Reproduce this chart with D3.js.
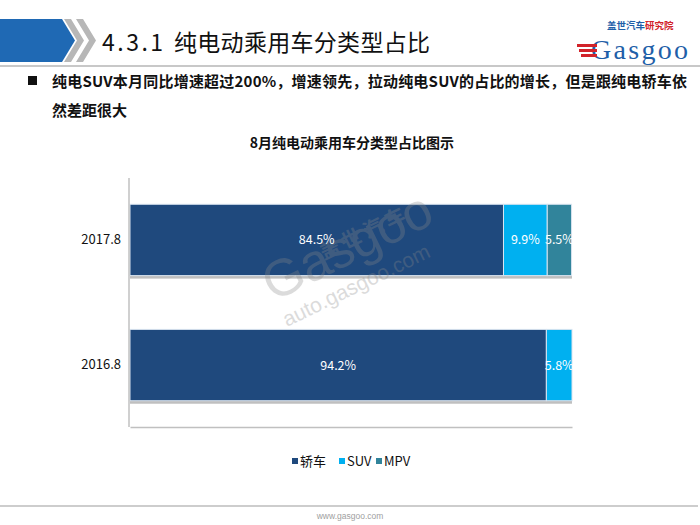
<!DOCTYPE html>
<html><head><meta charset="utf-8">
<script src="https://cdn.jsdelivr.net/npm/d3@7"></script>
<style>
html,body{margin:0;padding:0;background:#fff;}
svg{display:block;font-family:"Noto Sans CJK SC","Noto Sans",sans-serif;}
</style></head>
<body>
<svg id="c" width="700" height="525"></svg>
<script>
// ---- data ----
const categories = ["2017.8", "2016.8"];
const seriesNames = ["轿车", "SUV", "MPV"];
const sedanValues = [84.5, 94.2];
const suvValues = [9.9, 5.8];
const mpvValues = [5.5, 0];
const seriesColors = ["#1F497D", "#00B0F0", "#31849B"];
const headerNumber = "4.3.1";
const headerTitle = "纯电动乘用车分类型占比";
const bulletLine1 = "纯电SUV本月同比增速超过200%，增速领先，拉动纯电SUV的占比的增长，但是跟纯电轿车依";
const bulletLine2 = "然差距很大";
const chartTitle = "8月纯电动乘用车分类型占比图示";
const footerText = "www.gasgoo.com";

const svg = d3.select("#c");

// ---- header ----
svg.append("rect").attr("x",0).attr("y",19).attr("width",62).attr("height",43).attr("fill","#1F69B4");
svg.append("path").attr("d","M62,19 L75,40.5 L62,62 Z").attr("fill","#1F69B4");
[64,76].forEach(x0=>{
  svg.append("path").attr("d",`M${x0},19 L${x0+7},19 L${x0+20},40.5 L${x0+7},62 L${x0},62 L${x0+13},40.5 Z`).attr("fill","#B7B7B7");
});
svg.append("text").attr("x",102).attr("y",51).attr("font-size",23).attr("letter-spacing",2.5).attr("fill","#111").text(headerNumber);
svg.append("text").attr("x",174).attr("y",51).attr("font-size",23).attr("letter-spacing",0.3).attr("fill","#111").text(headerTitle);
svg.append("line").attr("x1",0).attr("x2",700).attr("y1",66).attr("y2",66).attr("stroke","#C8C8C8").attr("stroke-width",2);

// logo
const logo = svg.append("g");
const lt = logo.append("text").attr("x",607).attr("y",29).attr("font-size",9.5).attr("font-weight","bold");
lt.append("tspan").attr("fill","#1F5FA8").text("盖世汽车");
lt.append("tspan").attr("fill","#D2232A").text("研究院");
logo.append("text").attr("x",591).attr("y",59).attr("font-size",28).attr("font-family","Liberation Serif, serif").attr("fill","#1F5FA8").attr("textLength",97).text("Gasgoo");
[46,51,56].forEach((y,i)=>{
  logo.append("rect").attr("x",577+i*2).attr("y",y-2).attr("width",20-i*2).attr("height",3).attr("fill","#D2232A");
});

// bullet text
svg.append("rect").attr("x",28).attr("y",76).attr("width",9).attr("height",9).attr("fill","#111");
svg.append("text").attr("x",52).attr("y",87).attr("font-size",15).attr("font-weight","bold").attr("fill","#111").attr("textLength",635).text(bulletLine1);
svg.append("text").attr("x",52).attr("y",116).attr("font-size",15).attr("font-weight","bold").attr("fill","#111").text(bulletLine2);

// chart title
svg.append("text").attr("x",352).attr("y",148).attr("text-anchor","middle").attr("font-size",14).attr("font-weight","bold").attr("fill","#111").text(chartTitle);

// ---- chart ----
const x = d3.scaleLinear().domain([0,100]).range([130,572]);
const y = d3.scaleBand().domain(categories).range([178,427]).paddingInner(0.43).paddingOuter(0.21);

const stackData = categories.map((c,i)=>({cat:c, "轿车":sedanValues[i], "SUV":suvValues[i], "MPV":mpvValues[i]}));
const stacked = d3.stack().keys(seriesNames)(stackData);

// shadows
svg.append("g").selectAll("rect").data(categories).join("rect")
  .attr("x",x(0)).attr("y",d=>y(d)+3).attr("width",x(100)-x(0)).attr("height",y.bandwidth())
  .attr("fill","#BFBFBF");

const layers = svg.append("g").selectAll("g").data(stacked).join("g").attr("fill",(d,i)=>seriesColors[i]);
layers.selectAll("rect").data(d=>d).join("rect")
  .attr("x",d=>x(d[0])).attr("y",d=>y(d.data.cat))
  .attr("width",d=>Math.max(0,x(d[1])-x(d[0]))).attr("height",y.bandwidth())
  .attr("stroke","#D9E4F0").attr("stroke-width",d=>d[1]-d[0]>0?1:0);

// watermark (over the bars)
const wm = svg.append("g").attr("fill","#8A8A8A").attr("opacity",0.3);
wm.append("text").attr("transform","translate(273,302) rotate(-26)").attr("font-size",52).attr("font-family","Liberation Sans, sans-serif").text("Gasgoo");
wm.append("text").attr("transform","translate(287,327) rotate(-26)").attr("font-size",21).attr("font-family","Liberation Sans, sans-serif").text("auto.gasgoo.com");
wm.append("text").attr("transform","translate(324,260) rotate(-26)").attr("font-size",20).attr("font-weight","bold").attr("letter-spacing",4).text("盖世汽车");

// labels
const labG = svg.append("g");
stacked.forEach(layer=>{
  layer.forEach(v=>{
    const val = v[1]-v[0];
    if(val<=0) return;
    labG.append("text").attr("x",(x(v[0])+x(v[1]))/2).attr("y",y(v.data.cat)+y.bandwidth()/2+4.5)
      .attr("text-anchor","middle").attr("font-size",12.5).attr("fill","#fff")
      .text(val.toFixed(1)+"%");
  });
});

// axes
const yAxis = d3.axisLeft(y).tickSize(0).tickPadding(8);
const ag = svg.append("g").attr("transform","translate(129,0)").call(yAxis);
ag.select(".domain").attr("stroke","#C0C0C0").attr("stroke-width",1.5).attr("d","M0,178V427");
ag.selectAll("text").attr("font-size",13).attr("fill","#111").attr("font-family","Noto Sans CJK SC, sans-serif");
const xAxis = d3.axisBottom(x).tickValues([]).tickSize(0);
const xg = svg.append("g").attr("transform","translate(0,427)").call(xAxis);
xg.select(".domain").attr("stroke","#C0C0C0").attr("stroke-width",1.5);

// legend
const legendX = [292, 339, 376];
const lg = svg.append("g");
seriesNames.forEach((s,i)=>{
  lg.append("rect").attr("x",legendX[i]).attr("y",458).attr("width",6).attr("height",6).attr("fill",seriesColors[i]);
  lg.append("text").attr("x",legendX[i]+8).attr("y",466).attr("font-size",13).attr("fill","#111").text(s);
});

// footer
svg.append("line").attr("x1",0).attr("x2",698).attr("y1",506).attr("y2",506).attr("stroke","#BDBDBD").attr("stroke-width",1.5);
svg.append("text").attr("x",350).attr("y",519).attr("text-anchor","middle").attr("font-size",8.5).attr("fill","#A0A0A0").attr("font-family","Liberation Sans, sans-serif").text(footerText);
</script>
</body></html>
